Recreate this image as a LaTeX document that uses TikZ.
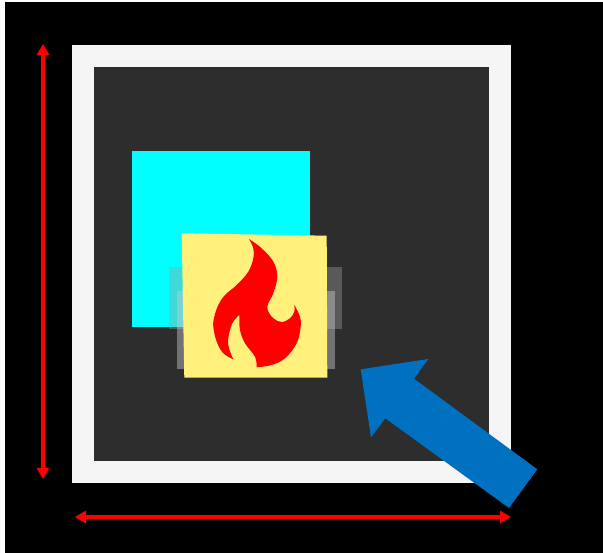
\documentclass[tikz,border=0pt]{standalone}
\usetikzlibrary{arrows.meta}
\definecolor{framew}{HTML}{F5F5F5}
\definecolor{darkbg}{HTML}{2D2D2D}
\definecolor{noteyel}{HTML}{FFF17C}
\definecolor{bluearr}{HTML}{0070C0}
\definecolor{aquasq}{HTML}{00FFFF}
\definecolor{glowa}{HTML}{A0A0A0}
\definecolor{glowb}{HTML}{C8C8C8}
\tikzset{
  redarrow/.style={draw=red,line width=3.4pt,{Triangle[length=11pt,width=12pt]}-{Triangle[length=11pt,width=12pt]}},
  glowouter/.style={fill=glowa,fill opacity=0.39,draw=none},
  glowinner/.style={fill=glowb,fill opacity=0.45,draw=none}
}
\begin{document}
\begin{tikzpicture}[x=1pt,y=-1pt]
\useasboundingbox (0,0) rectangle (603,553);
\fill[white] (0,0) rectangle (603,553);
\fill[black] (5,2) rectangle (603,553);
% frame
\fill[framew] (72,45) rectangle (511,483);
\fill[darkbg] (94,67) rectangle (489,461);
% cyan square
\fill[aquasq] (132,151) rectangle (310,327);
% translucent side patches
\fill[glowouter] (169,267) rectangle (185,329);
\fill[glowinner] (177,291) rectangle (185,369);
\fill[glowouter] (326,267) rectangle (342,329);
\fill[glowinner] (326,291) rectangle (335,369);
% note
\fill[noteyel] (181.7,233.3) -- (326.7,235.7) -- (327.3,377.7) -- (184.3,377.7) -- cycle;
% flame
\fill[red] plot[smooth,tension=0.6] coordinates {(249,239) (261.7,248.3) (273.3,261.7) (277.3,276.7) (273.3,293.3) (268.3,303.3) (267.7,310) (273.3,318.3) (281.7,322) (290,318.3) (294.3,311.7) (294.3,304.7)}
  -- plot[smooth,tension=0.6] coordinates {(294.3,304.7) (300,316.7) (300.7,326.7) (296.7,343.3) (285,358.3) (271.7,365) (256.7,367.3)}
  -- plot[smooth,tension=0.6] coordinates {(256.7,367.3) (255,356.7) (245,343.3) (240,330) (239.3,315)}
  -- plot[smooth,tension=0.6] coordinates {(239.3,315) (232.3,323.3) (228.3,338.3) (229,348.3) (233.3,359.3)}
  -- plot[smooth,tension=0.6] coordinates {(233.3,359.3) (223.3,353.3) (216.7,341.7) (213.3,326.7) (214.3,316.7) (218.3,305) (225,295) (236.7,285) (248.3,271.7) (253.3,258.3) (253.3,248.3) (249,239)}
  -- cycle;
% blue arrow
\fill[bluearr] (360.7,369.3) -- (428.3,359) -- (414,378.7) -- (537.3,469.3) -- (509,508) -- (385.3,418.3) -- (371,437.3) -- cycle;
% dimension arrows
\coordinate (vtop) at (43,44);
\coordinate (vbot) at (43,479);
\coordinate (hleft) at (75,517);
\coordinate (hright) at (511,517);
\draw[redarrow] (vtop) -- (vbot);
\draw[redarrow] (hleft) -- (hright);
\end{tikzpicture}
\end{document}
